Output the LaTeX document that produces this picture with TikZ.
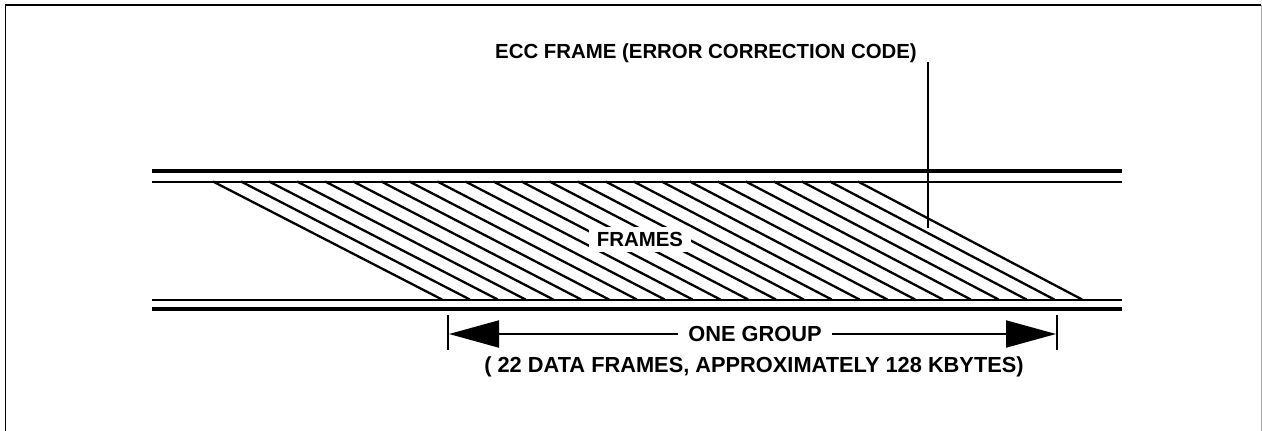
\documentclass[tikz,border=0pt]{standalone}
\usepackage{fontspec}
\setmainfont{Liberation Sans}
\usetikzlibrary{arrows.meta}
\begin{document}
\begin{tikzpicture}[x=1pt,y=-1pt,
  thick rail/.style={line width=4pt},
  thin rail/.style={line width=2pt},
  hatch/.style={line width=2.3pt},
  lbl/.style={font=\bfseries\fontsize{20.4}{24}\selectfont, inner sep=0pt},
  wide lbl/.style={font=\bfseries\fontsize{21.8}{26}\selectfont, inner sep=0pt},
  dim/.style={line width=2pt},
  tip/.style={-{Triangle[length=50pt,width=27pt]}}]
\useasboundingbox (0,0) rectangle (1262,431);
% outer frame
\draw[line width=1.6pt] (5.5,440) -- (5.5,5) -- (1261,5);
\draw[line width=1pt, black!35] (1261,5) -- (1261,440);
% rails
\coordinate (tl1) at (152,170.5); \coordinate (tr1) at (1122,170.5);
\coordinate (tl2) at (152,181.5); \coordinate (tr2) at (1122,181.5);
\coordinate (bl1) at (152,299.5); \coordinate (br1) at (1122,299.5);
\coordinate (bl2) at (152,308.5); \coordinate (br2) at (1122,308.5);
\draw[thick rail] (tl1) -- (tr1);
\draw[thin rail] (tl2) -- (tr2);
\draw[thin rail] (bl1) -- (br1);
\draw[thick rail] (bl2) -- (br2);
% hatch (frames)
\foreach \k in {0,...,23}{
  \draw[hatch] ({213+28.04*\k},181.5) -- ({442+27.83*\k},299.5);
}
\node[lbl, fill=white, inner xsep=8pt, inner ysep=5pt] (frames) at (640,239.5) {FRAMES};
% ECC label and leader
\node[lbl, anchor=base east] (ecc) at (917,58) {ECC FRAME (ERROR CORRECTION CODE)};
\coordinate (eccTop) at (927.5,62);
\coordinate (eccBot) at (927.5,228);
\draw[line width=2pt] (eccTop) -- (eccBot);
% group dimension
\coordinate (lt1) at (448,315); \coordinate (lt2) at (448,350);
\coordinate (rt1) at (1057,315); \coordinate (rt2) at (1057,350);
\draw[dim] (lt1) -- (lt2);
\draw[dim] (rt1) -- (rt2);
\node[wide lbl] (group) at (755,334) {ONE GROUP};
\coordinate (la) at (449,334); \coordinate (ra) at (1056,334);
\draw[dim, tip] ([xshift=-10pt]group.west) -- (la);
\draw[dim, tip] ([xshift=10pt]group.east) -- (ra);
\node[wide lbl] (note) at (754,367) {( 22 DATA FRAMES, APPROXIMATELY 128 KBYTES)};
\end{tikzpicture}
\end{document}
